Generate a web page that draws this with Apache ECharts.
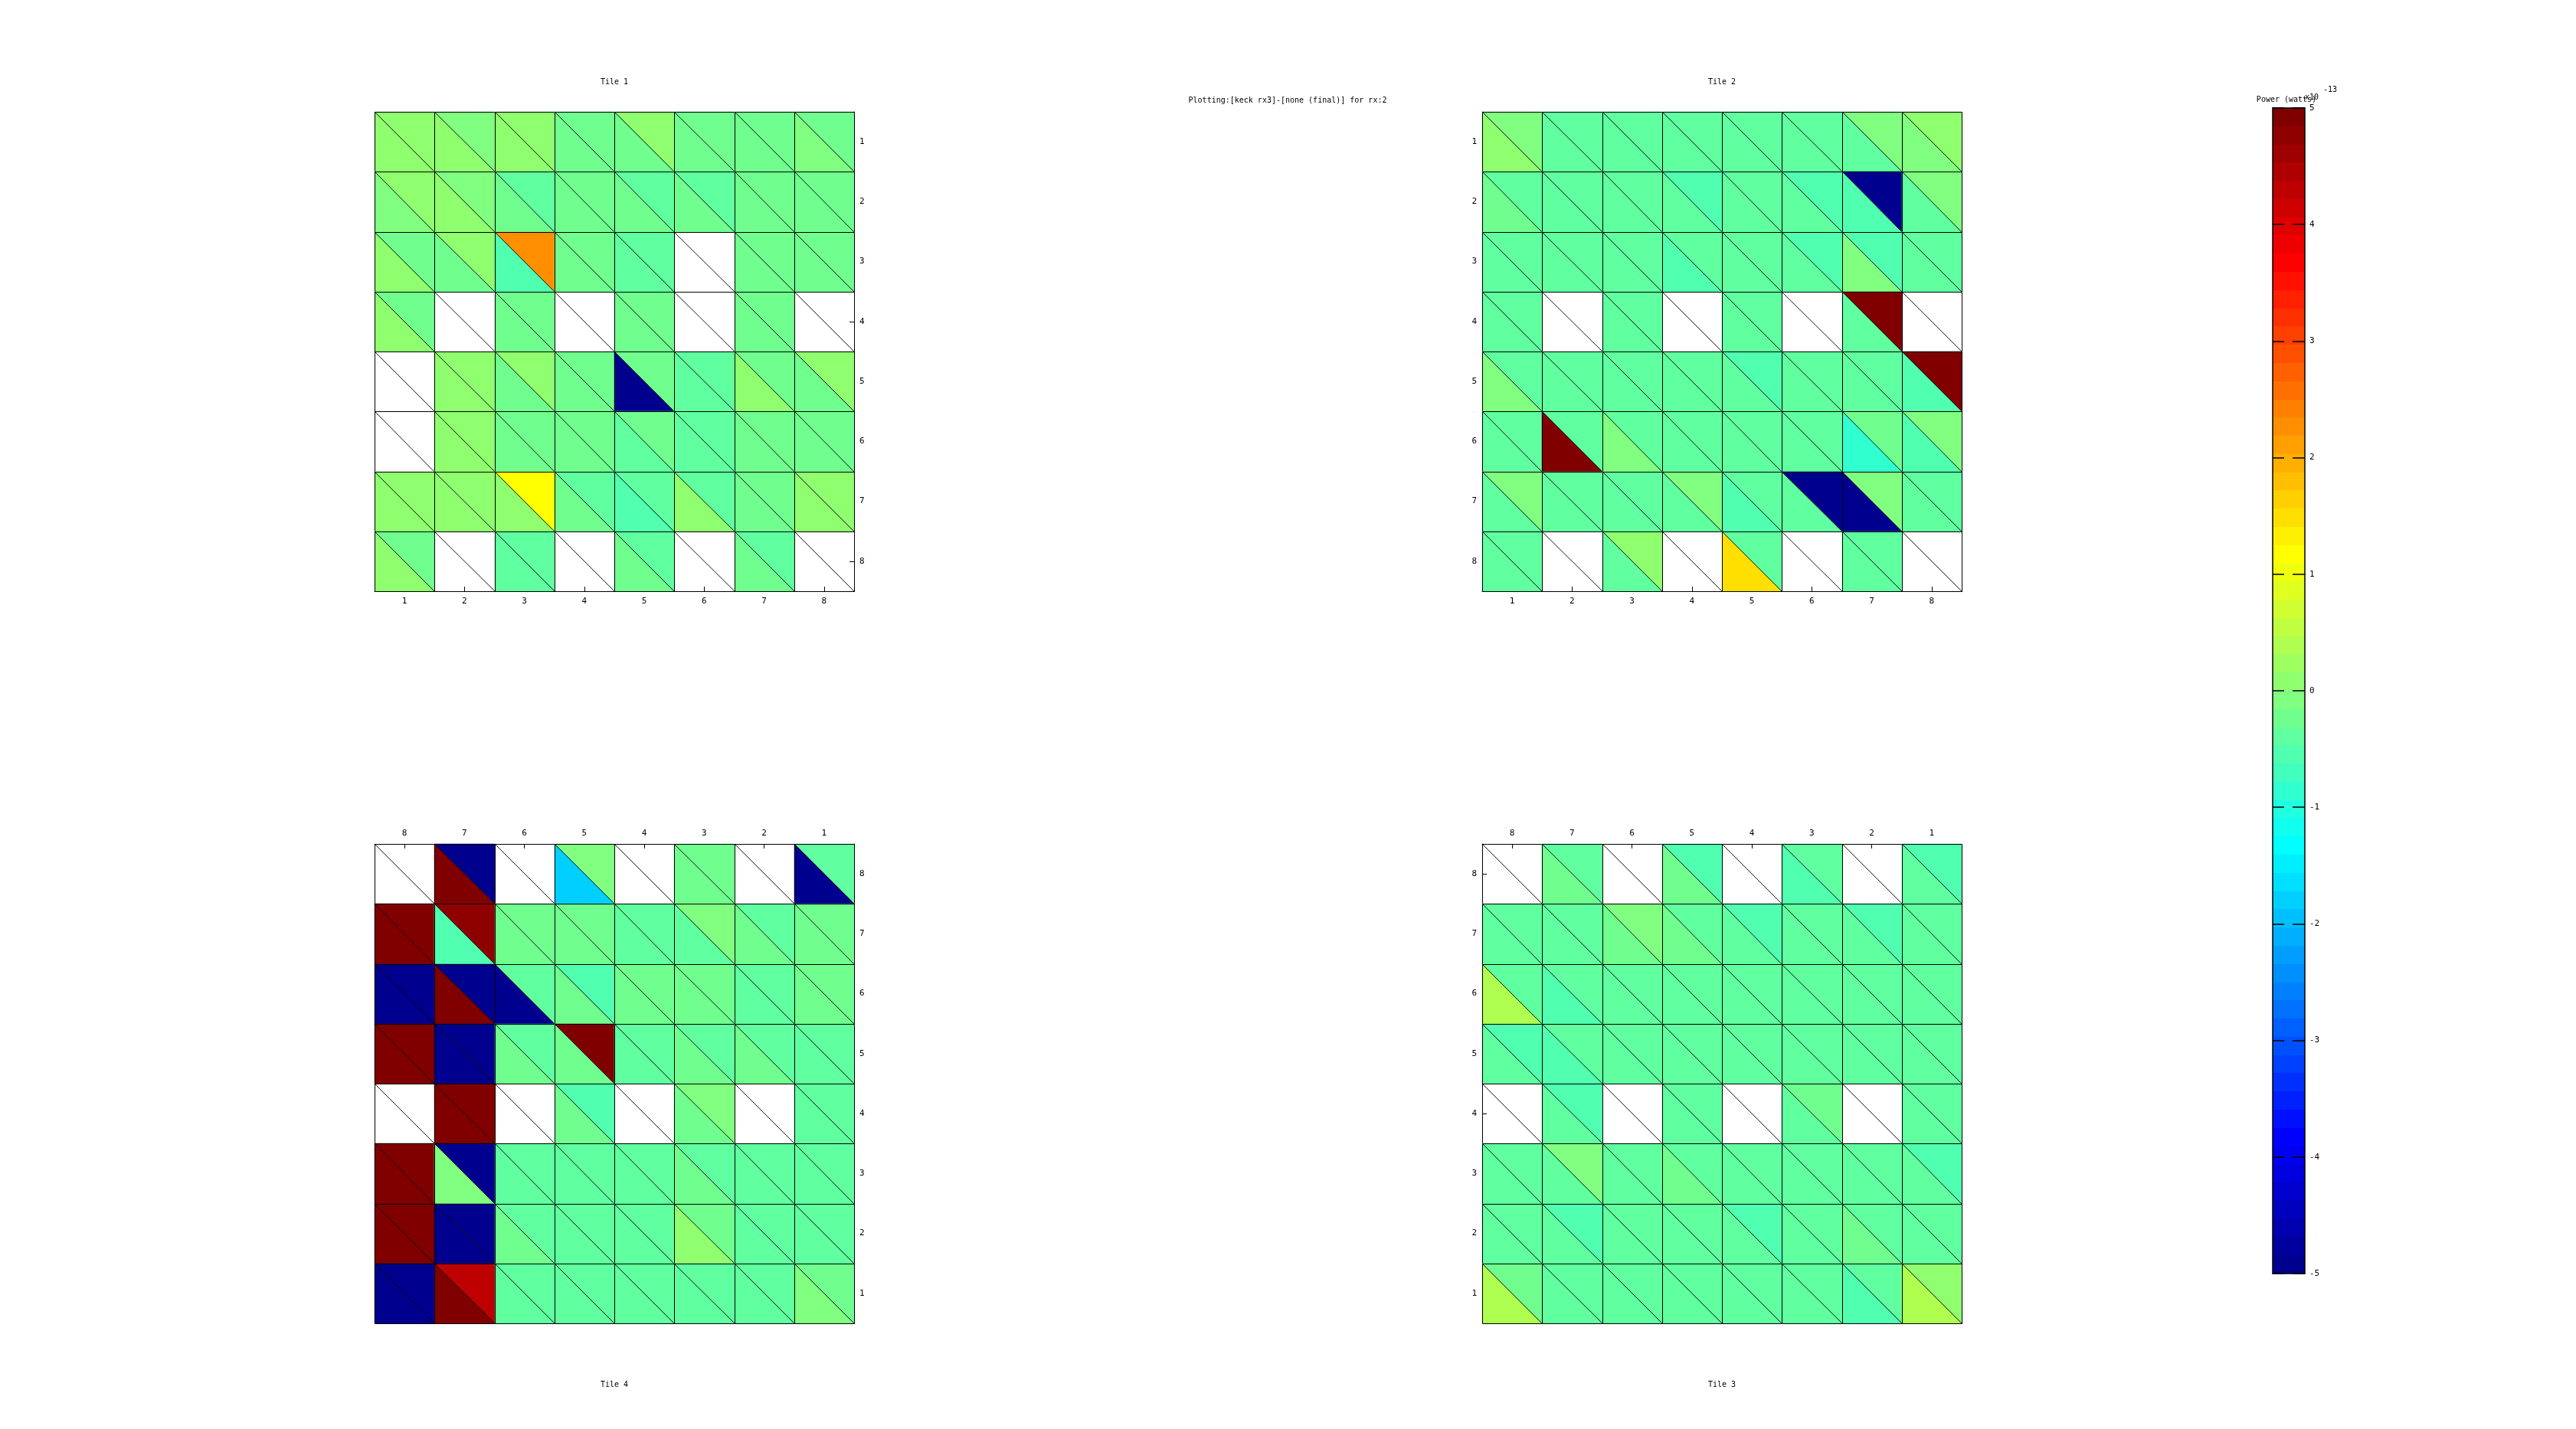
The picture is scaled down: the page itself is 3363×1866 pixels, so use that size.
<!DOCTYPE html>
<html>
<head>
<meta charset="utf-8">
<script src="https://cdn.jsdelivr.net/npm/echarts@6/dist/echarts.min.js"></script>
<style>html,body{margin:0;padding:0;background:#fff}#c{width:3363px;height:1866px}</style>
</head>
<body>
<div id="c"></div>
<script>
// ---------------- DATA (units of 1e-13 W) ----------------
const mainTitle = 'Plotting:[keck rx3]-[none (final)] for rx:2';
const colorbarTitle = 'Power (watts)';
const colorMin = -5, colorMax = 5, colorLevels = 64;
const colorbarTicks = [-5, -4, -3, -2, -1, 0, 1, 2, 3, 4, 5];

// tick labels, in screen order (x: left->right, y: top->bottom)
const tile1X = ['1','2','3','4','5','6','7','8'];
const tile1Y = ['1','2','3','4','5','6','7','8'];
const tile2X = ['1','2','3','4','5','6','7','8'];
const tile2Y = ['1','2','3','4','5','6','7','8'];
const tile4X = ['8','7','6','5','4','3','2','1'];
const tile4Y = ['8','7','6','5','4','3','2','1'];
const tile3X = ['8','7','6','5','4','3','2','1'];
const tile3Y = ['8','7','6','5','4','3','2','1'];

// upper-right / lower-left triangle of each cell, rows in screen order
const tile1Upper = [
  [0.08, -0.08, 0.08, -0.23, 0.08, -0.23, -0.23, -0.23],
  [0.08, -0.08, -0.39, -0.23, -0.39, -0.39, -0.23, -0.23],
  [-0.23, 0.08, 2.25, -0.23, -0.39, null, -0.23, -0.23],
  [-0.23, null, -0.23, null, -0.23, null, -0.23, null],
  [null, 0.08, 0.08, -0.23, -0.23, -0.39, -0.23, 0.08],
  [null, 0.08, -0.23, -0.23, -0.23, -0.39, -0.23, -0.23],
  [0.08, 0.08, 1.15, -0.39, -0.39, -0.39, -0.23, 0.08],
  [-0.23, null, -0.39, null, -0.39, null, -0.39, null]
];
const tile1Lower = [
  [0.08, 0.08, 0.08, -0.23, -0.23, -0.23, -0.23, -0.08],
  [-0.08, 0.08, -0.23, -0.23, -0.23, -0.23, -0.23, -0.23],
  [0.08, -0.23, -0.55, -0.23, -0.39, null, -0.23, -0.23],
  [0.08, null, -0.23, null, -0.23, null, -0.23, null],
  [null, 0.08, -0.23, -0.23, -4.9, -0.39, 0.08, -0.23],
  [null, 0.08, -0.23, -0.23, -0.39, -0.39, -0.23, -0.23],
  [0.08, 0.08, 0.08, -0.23, -0.55, 0.08, -0.23, 0.08],
  [0.08, null, -0.39, null, -0.23, null, -0.23, null]
];
const tile2Upper = [
  [-0.08, -0.39, -0.39, -0.39, -0.39, -0.39, -0.08, 0.08],
  [-0.39, -0.39, -0.39, -0.55, -0.39, -0.55, -4.9, -0.08],
  [-0.39, -0.39, -0.39, -0.39, -0.39, -0.55, -0.55, -0.39],
  [-0.39, null, -0.39, null, -0.39, null, 4.9, null],
  [-0.39, -0.39, -0.39, -0.39, -0.55, -0.39, -0.39, 4.9],
  [-0.39, -0.39, -0.39, -0.39, -0.39, -0.39, -0.23, -0.08],
  [-0.08, -0.39, -0.39, -0.08, -0.39, -4.9, -0.08, -0.39],
  [-0.39, null, 0.08, null, -0.39, null, -0.39, null]
];
const tile2Lower = [
  [0.08, -0.39, -0.39, -0.39, -0.39, -0.39, -0.39, -0.08],
  [-0.23, -0.39, -0.39, -0.39, -0.39, -0.39, -0.55, -0.39],
  [-0.39, -0.39, -0.39, -0.55, -0.39, -0.39, -0.08, -0.39],
  [-0.39, null, -0.39, null, -0.39, null, -0.39, null],
  [-0.08, -0.39, -0.39, -0.39, -0.39, -0.39, -0.39, -0.55],
  [-0.39, 4.9, -0.08, -0.39, -0.39, -0.39, -0.86, -0.55],
  [-0.39, -0.39, -0.39, -0.39, -0.55, -0.39, -4.9, -0.39],
  [-0.39, null, -0.39, null, 1.45, null, -0.39, null]
];
const tile4Upper = [
  [null, -4.9, null, -0.08, null, -0.23, null, -0.39],
  [4.9, 4.75, -0.23, -0.23, -0.39, -0.08, -0.39, -0.23],
  [-4.9, -4.9, -0.39, -0.55, -0.23, -0.23, -0.39, -0.23],
  [4.9, -4.9, -0.39, 4.9, -0.39, -0.39, -0.39, -0.39],
  [null, 4.9, null, -0.55, null, -0.08, null, -0.39],
  [4.9, -4.9, -0.39, -0.39, -0.39, -0.39, -0.39, -0.39],
  [4.9, -4.9, -0.39, -0.39, -0.39, -0.23, -0.39, -0.39],
  [-4.9, 4.3, -0.39, -0.39, -0.39, -0.39, -0.39, -0.23]
];
const tile4Lower = [
  [null, 4.9, null, -1.8, null, -0.23, null, -4.9],
  [4.9, -0.55, -0.23, -0.23, -0.39, -0.39, -0.23, -0.23],
  [-4.9, 4.9, -4.9, -0.23, -0.23, -0.23, -0.39, -0.23],
  [4.9, -4.9, -0.23, -0.23, -0.39, -0.23, -0.23, -0.39],
  [null, 4.9, null, -0.23, null, -0.23, null, -0.39],
  [4.9, -0.08, -0.39, -0.39, -0.39, -0.23, -0.39, -0.39],
  [4.9, -4.9, -0.23, -0.39, -0.39, 0.08, -0.39, -0.39],
  [-4.9, 4.9, -0.39, -0.39, -0.39, -0.39, -0.39, -0.08]
];
const tile3Upper = [
  [null, -0.39, null, -0.55, null, -0.39, null, -0.55],
  [-0.39, -0.39, -0.08, -0.39, -0.55, -0.39, -0.55, -0.39],
  [-0.39, -0.39, -0.39, -0.39, -0.39, -0.39, -0.39, -0.39],
  [-0.55, -0.39, -0.39, -0.39, -0.39, -0.39, -0.39, -0.39],
  [null, -0.55, null, -0.39, null, -0.23, null, -0.39],
  [-0.39, -0.08, -0.39, -0.39, -0.39, -0.39, -0.39, -0.55],
  [-0.39, -0.55, -0.39, -0.39, -0.55, -0.39, -0.39, -0.39],
  [-0.23, -0.39, -0.39, -0.39, -0.39, -0.39, -0.39, 0.08]
];
const tile3Lower = [
  [null, -0.23, null, -0.23, null, -0.55, null, -0.39],
  [-0.39, -0.39, -0.23, -0.23, -0.39, -0.39, -0.39, -0.39],
  [0.33, -0.55, -0.39, -0.39, -0.39, -0.39, -0.39, -0.39],
  [-0.39, -0.55, -0.39, -0.39, -0.39, -0.39, -0.39, -0.39],
  [null, -0.39, null, -0.39, null, -0.39, null, -0.39],
  [-0.39, -0.39, -0.39, -0.23, -0.39, -0.39, -0.39, -0.39],
  [-0.39, -0.39, -0.39, -0.39, -0.39, -0.39, -0.23, -0.39],
  [0.33, -0.39, -0.39, -0.39, -0.39, -0.39, -0.55, 0.33]
];

// ---------------- RENDERING ----------------
const FONT = 'DejaVu Sans Mono';
function jetColor(v) {
  let k = Math.floor((v - colorMin) / (colorMax - colorMin) * colorLevels);
  k = Math.max(0, Math.min(colorLevels - 1, k));
  const i = k + 1;
  const b = i <= 8 ? 0.5 + i / 16 : i <= 24 ? 1 : i <= 40 ? 1 - (i - 24) / 16 : 0;
  const g = i <= 8 ? 0 : i <= 24 ? (i - 8) / 16 : i <= 40 ? 1 : i <= 56 ? 1 - (i - 40) / 16 : 0;
  const r = i <= 24 ? 0 : i <= 40 ? (i - 24) / 16 : i <= 56 ? 1 : 1 - (i - 56) / 16;
  return 'rgb(' + Math.round(r * 255) + ',' + Math.round(g * 255) + ',' + Math.round(b * 255) + ')';
}

function cellData(upper, lower) {
  const out = [];
  for (let r = 0; r < upper.length; r++)
    for (let c = 0; c < upper[r].length; c++)
      out.push([c, r, upper[r][c] == null ? '-' : upper[r][c], lower[r][c] == null ? '-' : lower[r][c]]);
  return out;
}

function renderCell(params, api) {
  const p = api.coord([api.value(0), api.value(1)]);
  const s = api.size([1, 1]);
  const x0 = Math.round(p[0] - s[0] / 2), x1 = Math.round(p[0] + s[0] / 2);
  const y0 = Math.round(p[1] - s[1] / 2), y1 = Math.round(p[1] + s[1] / 2);
  const up = api.value(2), lo = api.value(3);
  const children = [];
  if (isFinite(up)) children.push({type: 'polygon', shape: {points: [[x0, y0], [x1, y0], [x1, y1]]}, style: {fill: jetColor(up), stroke: jetColor(up), lineWidth: 0.5}});
  if (isFinite(lo)) children.push({type: 'polygon', shape: {points: [[x0, y0], [x0, y1], [x1, y1]]}, style: {fill: jetColor(lo), stroke: jetColor(lo), lineWidth: 0.5}});
  children.push({type: 'line', shape: {x1: x0 + 0.5, y1: y0 + 0.5, x2: x1 + 0.5, y2: y1 + 0.5}, style: {stroke: '#000', lineWidth: 0.9}});
  children.push({type: 'rect', shape: {x: x0 + 0.5, y: y0 + 0.5, width: x1 - x0, height: y1 - y0}, style: {fill: 'none', stroke: '#000', lineWidth: 1}});
  return {type: 'group', children};
}

const tiles = [
  {x: tile1X, y: tile1Y, up: tile1Upper, lo: tile1Lower, left: 489, top: 146, xPos: 'bottom', yPos: 'right'},
  {x: tile2X, y: tile2Y, up: tile2Upper, lo: tile2Lower, left: 1935, top: 146, xPos: 'bottom', yPos: 'left'},
  {x: tile4X, y: tile4Y, up: tile4Upper, lo: tile4Lower, left: 489, top: 1102, xPos: 'top', yPos: 'right'},
  {x: tile3X, y: tile3Y, up: tile3Upper, lo: tile3Lower, left: 1935, top: 1102, xPos: 'top', yPos: 'left'}
];
const SIZE = 626;
const grids = [], xAxes = [], yAxes = [], series = [];
const labelStyle = {color: '#000', fontFamily: FONT, fontSize: 11};
tiles.forEach((t, i) => {
  grids.push({left: t.left, top: t.top, width: SIZE, height: SIZE, containLabel: false});
  xAxes.push({gridIndex: i, type: 'category', data: t.x, position: t.xPos,
    axisLine: {show: true, lineStyle: {color: '#000', width: 1}},
    axisTick: {show: true, inside: true, length: 6, alignWithLabel: true, lineStyle: {color: '#000', width: 1}},
    axisLabel: Object.assign({margin: 8}, labelStyle), splitLine: {show: false}});
  yAxes.push({gridIndex: i, type: 'category', data: t.y, inverse: true, position: t.yPos,
    axisLine: {show: true, lineStyle: {color: '#000', width: 1}},
    axisTick: {show: true, inside: true, length: 6, alignWithLabel: true, lineStyle: {color: '#000', width: 1}},
    axisLabel: Object.assign({margin: 7}, labelStyle), splitLine: {show: false}});
  series.push({type: 'custom', xAxisIndex: i, yAxisIndex: i, z: 2,
    dimensions: ['col', 'row', 'upper', 'lower'], encode: {x: 0, y: 1},
    data: cellData(t.up, t.lo), renderItem: renderCell, silent: true});
});

// colorbar grid (index 4)
const cbLeft = 2967, cbTop = 141, cbW = 42, cbH = 1522;
grids.push({left: cbLeft, top: cbTop, width: cbW, height: cbH});
const cbX = xAxes.length;
xAxes.push({gridIndex: 4, type: 'value', min: 0, max: 1, position: 'bottom', z: 10,
  axisLine: {show: true, onZero: false, lineStyle: {color: '#000', width: 1.5}}, axisTick: {show: false}, axisLabel: {show: false}, splitLine: {show: false}});
xAxes.push({gridIndex: 4, type: 'value', min: 0, max: 1, position: 'top', z: 10,
  axisLine: {show: true, onZero: false, lineStyle: {color: '#000', width: 1.5}}, axisTick: {show: false}, axisLabel: {show: false}, splitLine: {show: false}});
const cbY = yAxes.length;
yAxes.push({gridIndex: 4, type: 'value', min: colorMin, max: colorMax, interval: 1, position: 'right', z: 10,
  axisLine: {show: true, onZero: false, lineStyle: {color: '#000', width: 1.5}},
  axisTick: {show: true, inside: true, length: 16, lineStyle: {color: '#000', width: 1.5}},
  axisLabel: Object.assign({margin: 6, formatter: v => colorbarTicks.includes(v) ? String(v) : ''}, labelStyle), splitLine: {show: false}});
yAxes.push({gridIndex: 4, type: 'value', min: colorMin, max: colorMax, interval: 1, position: 'left', z: 10,
  axisLine: {show: true, onZero: false, lineStyle: {color: '#000', width: 1.5}},
  axisTick: {show: true, inside: true, length: 15, lineStyle: {color: '#000', width: 1.5}},
  axisLabel: {show: false}, splitLine: {show: false}});
const cbData = [];
for (let k = 0; k < colorLevels; k++) {
  const lo = colorMin + k * (colorMax - colorMin) / colorLevels;
  cbData.push([0, lo, lo + (colorMax - colorMin) / colorLevels]);
}
series.push({type: 'custom', xAxisIndex: cbX, yAxisIndex: cbY, z: 2, silent: true,
  encode: {x: 0, y: 1}, data: cbData,
  renderItem: function (params, api) {
    const a = api.coord([0, api.value(1)]), b = api.coord([1, api.value(2)]);
    const mid = (api.value(1) + api.value(2)) / 2;
    return {type: 'rect', shape: {x: a[0], y: Math.round(b[1]), width: b[0] - a[0], height: Math.round(a[1]) - Math.round(b[1])},
      style: {fill: jetColor(mid)}};
  }});

const txt = (text, x, y, align) => ({type: 'text', x: x, y: y, z: 20,
  style: {text: text, fill: '#000', font: '10px "' + FONT + '"', textAlign: align || 'center', textVerticalAlign: 'middle'}});

const option = {
  animation: false,
  backgroundColor: '#fff',
  grid: grids, xAxis: xAxes, yAxis: yAxes, series: series,
  graphic: [
    txt(mainTitle, 1681, 131),
    txt('Tile 1', 802, 107),
    txt('Tile 2', 2248, 107),
    txt('Tile 4', 802, 1808),
    txt('Tile 3', 2248, 1808),
    txt(colorbarTitle, 2985, 130),
    txt('x10', 3009, 127, 'left'),
    txt('-13', 3033, 117, 'left')
  ]
};
const chart = echarts.init(document.getElementById('c'), null, {renderer: 'canvas'});
chart.setOption(option);
</script>
</body>
</html>
